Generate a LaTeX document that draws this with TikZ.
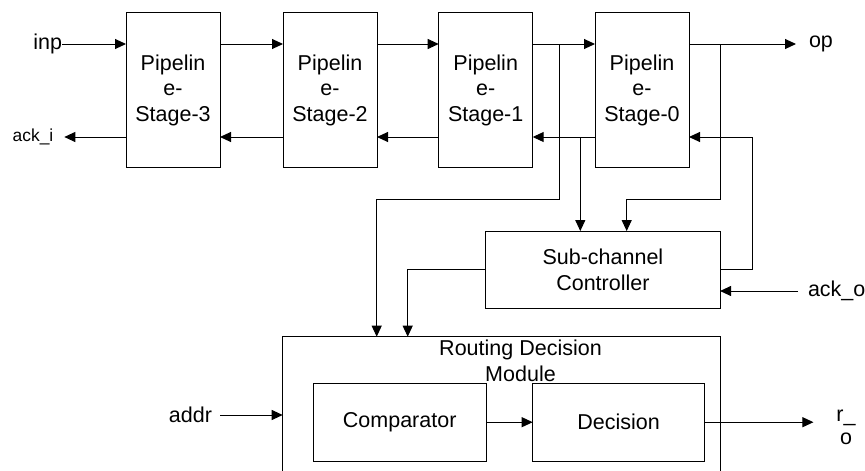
\documentclass[tikz,border=0pt]{standalone}
\usepackage{fontspec}
\setmainfont{Liberation Sans}
\usetikzlibrary{arrows.meta,calc}
\newcommand\dgbig{\fontsize{21.5}{25.7}\selectfont}
\newcommand\dgsmall{\fontsize{17.4}{20}\selectfont}
\newcommand\dgro{\fontsize{21.5}{23}\selectfont}
\begin{document}
\begin{tikzpicture}[x=1pt,y=-1pt,
  box/.style={draw=black, line width=1pt, align=center, inner sep=0pt, outer sep=0pt, font=\dgbig},
  stagebox/.style={box, minimum width=94pt, minimum height=155.3pt},
  lbl/.style={inner sep=0pt, outer sep=0pt, font=\dgbig},
  arr/.style={line width=1pt, -{Triangle[length=11pt,width=10pt]}},
  ln/.style={line width=1pt}]
\useasboundingbox (0,0) rectangle (865,471);

% pipeline stages
\node[stagebox] (s3) at (173,90.3) {Pipelin\\e-\\Stage-3};
\node[stagebox] (s2) at (330,90.3) {Pipelin\\e-\\Stage-2};
\node[stagebox] (s1) at (485.7,90.3) {Pipelin\\e-\\Stage-1};
\node[stagebox] (s0) at (642,90.3) {Pipelin\\e-\\Stage-0};

% controller
\node[box, minimum width=234.3pt, minimum height=77.3pt] (scc) at (602.9,269.7) {Sub-channel\\Controller};

% routing decision module (open at the bottom, cut by the frame)
\node[inner sep=0pt, outer sep=0pt, minimum width=437.3pt, minimum height=134.3pt] (rdm) at (501.35,403.85) {};
\draw[ln] (rdm.south west) -- (rdm.north west) -- (rdm.north east) -- (rdm.south east);
\node[lbl, align=center] (rdmt) at (520.5,361) {Routing Decision\\Module};
\node[box, minimum width=172.7pt, minimum height=77.7pt] (cmp) at (399.7,422.2) {Comparator};
\node[box, minimum width=171.6pt, minimum height=77.7pt] (dec) at (618.5,422.2) {Decision};

% external labels
\node[lbl, anchor=east] (inp) at (62,44) {inp};
\node[lbl, font=\dgsmall, anchor=west] (acki) at (12.7,137) {ack\_i};
\node[lbl, anchor=west] (op) at (809,44) {op};
\node[lbl, anchor=west] (acko) at (808,291) {ack\_o};
\node[lbl, anchor=east] (addr) at (212,415) {addr};
\node[lbl, font=\dgro, align=center] (ro) at (846,427) {r\_\\o};

% junction / bend coordinates
\coordinate (j1) at (559.3,44);
\coordinate (b1) at (376.7,199.3);
\coordinate (j2) at (580.3,137);
\coordinate (j3) at (720,44);
\coordinate (b3) at (626.7,199.3);
\coordinate (fbc) at (752.7,137);
\coordinate (b4) at (407.7,269.7);

% forward data path
\draw[arr] (inp.east) -- (inp -| s3.west);
\draw[arr] (inp -| s3.east) -- (inp -| s2.west);
\draw[arr] (inp -| s2.east) -- (inp -| s1.west);
\draw[arr] (inp -| s1.east) -- (inp -| s0.west);
\draw[arr] (inp -| s0.east) -- ($(op.west)+(-13,0)$);

% acknowledge path
\draw[arr] (acki -| s3.west) -- ($(acki.east)+(11,0)$);
\draw[arr] (acki -| s2.west) -- (acki -| s3.east);
\draw[arr] (acki -| s1.west) -- (acki -| s2.east);
\draw[arr] (acki -| s0.west) -- (acki -| s1.east);

% taps to controller and routing module
\draw[arr] (j1) |- (b1) -- (b1 |- rdm.north);
\draw[arr] (j2) -- (j2 |- scc.north);
\draw[arr] (j3) |- (b3) -- (b3 |- scc.north);
\draw[arr] (scc.east) -| (fbc) -- (fbc -| s0.east);
\draw[arr] (scc.west) -- (b4) -- (b4 |- rdm.north);
\draw[arr] ($(acko.west)+(-10,0)$) -- (acko -| scc.east);

% routing module internals
\draw[arr] ($(addr.east)+(8,0)$) -- (addr -| rdm.west);
\draw[arr] (cmp.east) -- (dec.west);
\draw[arr] (dec.east) -- ($(ro.west |- dec.east)+(-23,0)$);
\end{tikzpicture}
\end{document}
